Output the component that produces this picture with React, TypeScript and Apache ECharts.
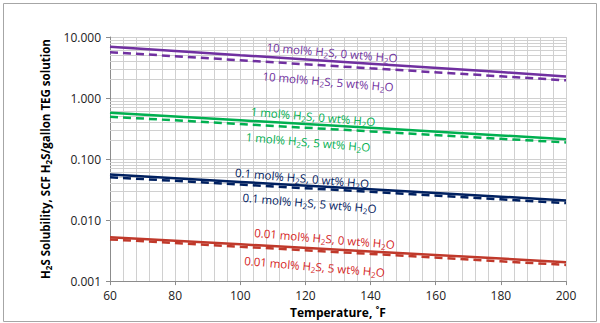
import React, { useEffect, useRef } from "react";
import * as echarts from "echarts";

const temps = [60, 100, 140, 180, 200];
const s10_0 = [6.95, 5.04, 3.66, 2.66, 2.26];
const s10_5 = [5.64, 4.16, 3.07, 2.27, 1.95];
const s1_0 = [0.574, 0.432, 0.325, 0.244, 0.211];
const s1_5 = [0.494, 0.375, 0.284, 0.215, 0.187];
const s01_0 = [0.0556, 0.0421, 0.0319, 0.0242, 0.021];
const s01_5 = [0.0504, 0.0382, 0.029, 0.0219, 0.019];
const s001_0 = [0.00525, 0.00401, 0.00306, 0.00234, 0.00204];
const s001_5 = [0.00482, 0.00366, 0.00279, 0.00211, 0.00184];

const decades = [0.001, 0.01, 0.1, 1];
const minorMultipliers = [2, 3, 4, 5, 6, 7, 8, 9];

const PURPLE = "#7030A0";
const GREEN = "#00B050";
const NAVY = "#002060";
const RED_LINE = "#C0392B";
const RED_TEXT = "#D41C1C";

const FONT = "'Open Sans', 'DejaVu Sans', sans-serif";

const labels = [
  { pct: "10", wt: "0", color: PURPLE, x: 332, y: 52.5 },
  { pct: "10", wt: "5", color: PURPLE, x: 328, y: 81.5 },
  { pct: "1", wt: "0", color: GREEN, x: 313, y: 116.5 },
  { pct: "1", wt: "5", color: GREEN, x: 308, y: 142 },
  { pct: "0.1", wt: "0", color: NAVY, x: 302, y: 178 },
  { pct: "0.1", wt: "5", color: NAVY, x: 309.5, y: 203 },
  { pct: "0.01", wt: "0", color: RED_TEXT, x: 324.5, y: 238.5 },
  { pct: "0.01", wt: "5", color: RED_TEXT, x: 314.5, y: 266.5 },
];

function pairs(vals: number[]) {
  return temps.map((t, i) => [t, vals[i]]);
}

export default function App() {
  const ref = useRef<HTMLDivElement>(null);
  useEffect(() => {
    if (!ref.current) return;
    const chart = echarts.init(ref.current, undefined, { renderer: "svg" });
    const minorValues: number[] = [];
    decades.forEach((d) => minorMultipliers.forEach((m) => minorValues.push(+(d * m).toPrecision(3))));

    const lineSeries = (name: string, vals: number[], color: string, dashed: boolean) => ({
      type: "line",
      name,
      data: pairs(vals),
      showSymbol: false,
      symbol: "none",
      z: 5,
      lineStyle: { color, width: 2.5, type: dashed ? [8, 5] : "solid" },
    });

    const richBase = (color: string) => ({
      n: { fontSize: 11.5, fontFamily: FONT, fill: color, color },
      s: { fontSize: 8, fontFamily: FONT, fill: color, color, verticalAlign: "bottom", lineHeight: 14, padding: [4, 0, 0, 0] },
    });

    chart.setOption({
      animation: false,
      grid: { left: 110, right: 34, top: 37, bottom: 40 },
      xAxis: {
        type: "value",
        min: 60,
        max: 200,
        interval: 20,
        name: "Temperature, ˚F",
        nameLocation: "middle",
        nameGap: 23,
        nameTextStyle: { fontFamily: FONT, fontWeight: "bold", fontSize: 12, color: "#000" },
        axisLine: { show: true, lineStyle: { color: "#8C8C8C", width: 1 } },
        axisTick: { show: true, length: 4, lineStyle: { color: "#8C8C8C" } },
        axisLabel: { fontFamily: FONT, fontSize: 12, color: "#222", margin: 8 },
        splitLine: { show: true, lineStyle: { color: "#D0D0D0", width: 1 } },
        minorTick: { show: false, splitNumber: 5 },
        minorSplitLine: { show: true, lineStyle: { color: "#D0D0D0", width: 1 } },
      },
      yAxis: {
        type: "log",
        logBase: 10,
        min: 0.001,
        max: 10,
        name: "H{s|2}S Solubility, SCF H{s|2}S/gallon TEG solution",
        nameLocation: "middle",
        nameGap: 56,
        nameTextStyle: {
          fontFamily: FONT,
          fontWeight: "bold",
          fontSize: 11.5,
          color: "#000",
          rich: {
            s: { fontFamily: FONT, fontWeight: "bold", fontSize: 8, color: "#000", verticalAlign: "bottom", lineHeight: 14, padding: [4, 0, 0, 0] },
          },
        },
        axisLine: { show: true, lineStyle: { color: "#8C8C8C", width: 1 } },
        axisTick: { show: true, length: 4, lineStyle: { color: "#8C8C8C" } },
        axisLabel: {
          fontFamily: FONT,
          fontSize: 12,
          color: "#222",
          margin: 9,
          formatter: (v: number) => v.toFixed(3),
        },
        splitLine: { show: true, lineStyle: { color: "#D0D0D0", width: 1 } },
      },
      series: [
        {
          type: "line",
          name: "grid",
          data: [],
          z: 1,
          markLine: {
            silent: true,
            symbol: "none",
            label: { show: false },
            lineStyle: { color: "#D0D0D0", width: 1, type: "solid" },
            data: minorValues.map((v) => ({ yAxis: v })),
          },
        },
        lineSeries("10 mol% H2S, 0 wt% H2O", s10_0, PURPLE, false),
        lineSeries("10 mol% H2S, 5 wt% H2O", s10_5, PURPLE, true),
        lineSeries("1 mol% H2S, 0 wt% H2O", s1_0, GREEN, false),
        lineSeries("1 mol% H2S, 5 wt% H2O", s1_5, GREEN, true),
        lineSeries("0.1 mol% H2S, 0 wt% H2O", s01_0, NAVY, false),
        lineSeries("0.1 mol% H2S, 5 wt% H2O", s01_5, NAVY, true),
        lineSeries("0.01 mol% H2S, 0 wt% H2O", s001_0, RED_LINE, false),
        lineSeries("0.01 mol% H2S, 5 wt% H2O", s001_5, RED_LINE, true),
      ],
      graphic: [
        {
          type: "rect",
          shape: { x: 3.5, y: 3.5, width: 593, height: 318 },
          style: { fill: "none", stroke: "#A6A6A6", lineWidth: 1 },
          silent: true,
          z: 0,
        },
        ...labels.map((l) => ({
          type: "text",
          x: l.x,
          y: l.y,
          rotation: -0.085,
          z: 10,
          style: {
            text: `{n|${l.pct} mol% H}{s|2}{n|S, ${l.wt} wt% H}{s|2}{n|O}`,
            rich: richBase(l.color),
            align: "center",
            verticalAlign: "middle",
            fill: l.color,
            font: `11.5px ${FONT}`,
          },
        })),
      ],
    });
    return () => chart.dispose();
  }, []);
  return (
    <div
      ref={ref}
      style={{ position: "fixed", left: 0, top: 0, width: 600, height: 323, background: "#fff" }}
    />
  );
}
